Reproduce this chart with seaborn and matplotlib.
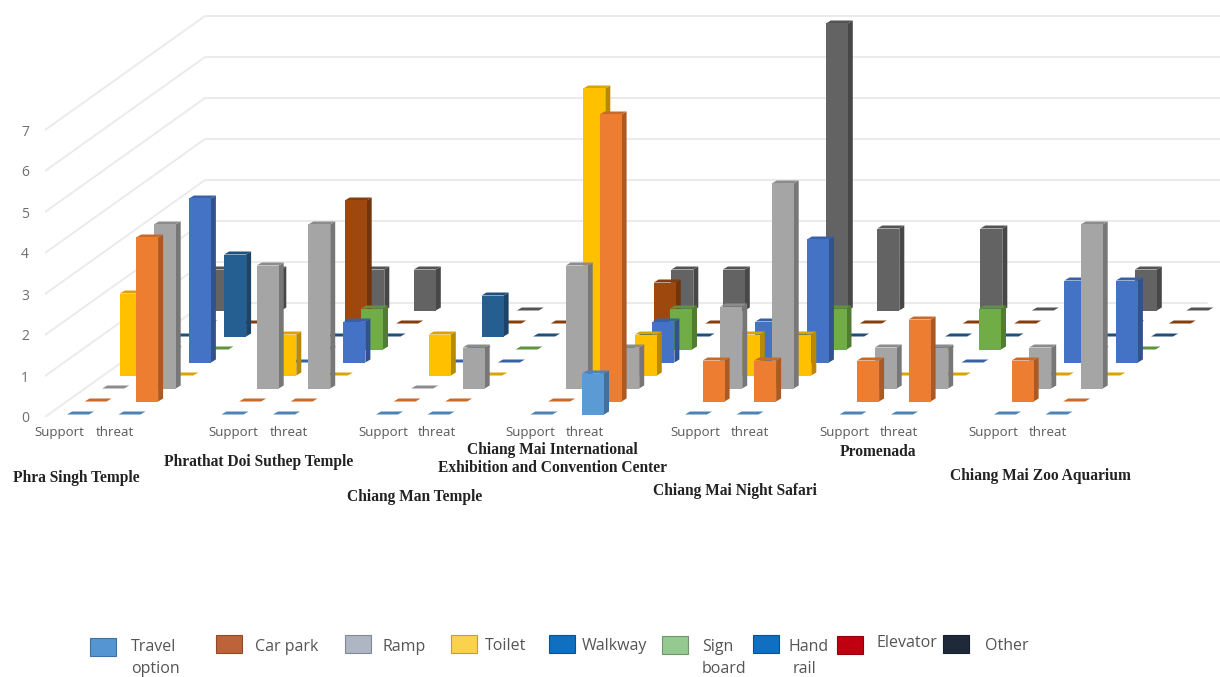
import numpy as np
import matplotlib
matplotlib.use("Agg")
import matplotlib.pyplot as plt
from matplotlib.patches import Rectangle
from matplotlib.transforms import Affine2D
import seaborn as sns

# ---- data (Support, threat for each of the seven places) ----
places = ["Phra Singh Temple", "Phrathat Doi Suthep Temple", "Chiang Man Temple",
          "Chiang Mai International\nExhibition and Convention Center",
          "Chiang Mai Night Safari", "Promenada", "Chiang Mai Zoo Aquarium"]
kinds = ["Support", "threat"]
series_names = ["Travel\noption", "Car park", "Ramp", "Toilet", "Walkway",
                "Sign\nboard", "Hand\nrail", "Elevator", "Other"]
travel_option = [0, 0, 0, 0, 0, 0, 0, 1, 0, 0, 0, 0, 0, 0]
car_park      = [0, 4, 0, 0, 0, 0, 0, 7, 1, 1, 1, 2, 1, 0]
ramp          = [0, 4, 3, 4, 0, 1, 3, 1, 2, 5, 1, 1, 1, 4]
toilet        = [2, 0, 1, 0, 1, 0, 7, 1, 1, 1, 0, 0, 0, 0]
walkway       = [0, 4, 0, 1, 0, 0, 0, 1, 1, 3, 0, 0, 2, 2]
sign_board    = [0, 0, 0, 1, 0, 0, 0, 1, 0, 1, 0, 1, 0, 0]
hand_rail     = [0, 2, 0, 0, 1, 0, 0, 0, 0, 0, 0, 0, 0, 0]
elevator      = [0, 0, 3, 0, 0, 0, 1, 0, 0, 0, 0, 0, 0, 0]
other         = [1, 1, 1, 1, 0, 0, 1, 1, 7, 2, 2, 0, 1, 0]
rows = [travel_option, car_park, ramp, toilet, walkway, sign_board, hand_rail, elevator, other]

bar_colors = ["#5B9BD5", "#ED7D31", "#A5A5A5", "#FFC000", "#4472C4",
              "#70AD47", "#255E91", "#9E480E", "#636363"]
legend_colors = ["#5596D2", "#BE6339", "#AEB6C4", "#FBD24E", "#0F6FC0",
                 "#94C98F", "#0F6FC0", "#C00010", "#1E2A3A"]

# ---- layout (pixels of the 1220x677 canvas) ----
W, H = 1220, 677
sns.set_theme(style="white")
plt.rcParams["font.family"] = ["Open Sans", "DejaVu Sans"]
fig = plt.figure(figsize=(W / 100, H / 100), dpi=100, facecolor="white")
FLOOR, LEFT = 417, 45
ax = fig.add_axes([LEFT / W, 1 - FLOOR / H, (W - LEFT) / W, FLOOR / H])
ax.patch.set_alpha(0)
U = 41.0      # pixels per unit of value
S = 51.5      # pixels per category slot
X0 = 78.0     # pixel centre of the first slot in the front row
px2s = lambda p: (p - X0) / S
xlim = (px2s(LEFT), px2s(W))
ylim = (0, FLOOR / U)

slots = np.array([0, 1, 3, 4, 6, 7, 9, 10, 12, 13, 15, 16, 18, 19], dtype=float)
ROW_DX, ROW_DY = 17.6 / S, 13.0 / U
BAR_W = 22.0 / S
DEP_X, DEP_Y = 5.0 / S, 3.0 / U
BASE0 = 2.5 / U


def shade(c, f):
    return tuple(v * f for v in matplotlib.colors.to_rgb(c))


# walls: gridlines on the back wall and along the left wall
WALL_X, WALL_Y = 160.0 / S, 114.0 / U
for v in range(8):
    xf, xb = px2s(LEFT), px2s(LEFT) + WALL_X
    end = px2s(1207) if v == 0 else xlim[1]
    ax.plot([xf, xb, end], [v, v + WALL_Y, v + WALL_Y], color="#EBEBEB", lw=1.4, zorder=1,
            solid_joinstyle="round")

# columns, drawn from the back row to the front row
for r in range(8, -1, -1):
    vals = np.array(rows[r], dtype=float)
    xs = slots + r * ROW_DX
    base = BASE0 + r * ROW_DY
    z = 10 + (8 - r)
    col = bar_colors[r]
    sns.barplot(x=xs, y=vals, native_scale=True, width=BAR_W, bottom=base, color=col,
                saturation=1, linewidth=0, ax=ax, zorder=z + 0.2)
    for x, v in zip(xs, vals):
        xl, xr = x - BAR_W / 2, x + BAR_W / 2
        top = base + v
        if v > 0:
            ax.fill([xr, xr + DEP_X, xr + DEP_X, xr],
                    [base, base + DEP_Y, top + DEP_Y, top],
                    color=shade(col, 0.72), lw=0, zorder=z + 0.1)
        ax.fill([xl, xr, xr + DEP_X, xl + DEP_X],
                [top, top, top + DEP_Y, top + DEP_Y],
                color=shade(col, 0.85), lw=0, zorder=z + 0.1)

ax.set(xlim=xlim, ylim=ylim, xlabel="", ylabel="")
sns.despine(ax=ax, left=True, bottom=True)
ax.grid(False)

# axis labels
label_px = [59, 115, 233, 289, 383, 437, 530, 585, 695, 750, 844, 899, 993, 1048]
ax.set_xticks([px2s(p) for p in label_px], kinds * len(places))
ax.set_yticks(range(8), [str(i) for i in range(8)])
ax.tick_params(axis="x", length=0, pad=6.5, labelsize=9.5, labelcolor="#595959")
ax.tick_params(axis="y", length=0, pad=11.5, labelsize=10, labelcolor="#6E6E6E")

# place titles and legend in canvas pixels
tp = Affine2D().scale(1 / W, -1 / H).translate(0, 1) + fig.transFigure
title_pos = [(76, 478), (259, 462), (415, 497), (552, 459), (735, 491), (878, 452), (1040, 476)]
for name, (tx, ty) in zip(places, title_pos):
    fig.text(tx, ty, name, transform=tp, ha="center", va="center", family="Liberation Serif",
             fontweight="bold", fontsize=11.2, color="#222222", linespacing=1.15)

swatches = [(90, 638), (216, 635), (345, 635), (451, 635), (549, 635),
            (662, 636), (753, 635), (837, 636), (943, 635)]
text_pos = [(131, 647), (255, 647), (383, 647), (485, 646), (582, 646),
            (702, 647), (788, 647), (877, 643), (985, 646)]
for (sx, sy), c, name, (tx, ty) in zip(swatches, legend_colors, series_names, text_pos):
    fig.add_artist(Rectangle((sx, sy), 26, 18, transform=tp, facecolor=c,
                             edgecolor=shade(c, 0.75), lw=0.8))
    first, *rest = name.split("\n")
    fig.text(tx, ty, first, transform=tp, ha="left", va="center", fontsize=11.5, color="#555555")
    if rest:
        fig.text(tx + (5 if first == "Hand" else 0), ty + 22, rest[0], transform=tp, ha="left",
                 va="center", fontsize=11.5, color="#555555")

fig.savefig("out.png", dpi=100, facecolor="white")
